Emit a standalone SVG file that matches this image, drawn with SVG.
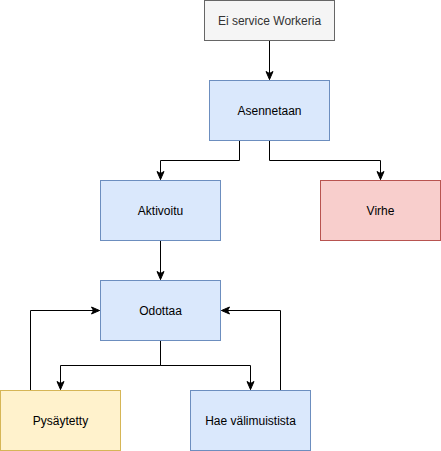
<svg xmlns="http://www.w3.org/2000/svg" width="441" height="451" viewBox="0 0 441 451">
<style>
.n rect{stroke-width:1}
.blue{fill:#dae8fc;stroke:#6c8ebf}
.gray{fill:#f5f5f5;stroke:#666666}
.red{fill:#f8cecc;stroke:#b85450}
.yellow{fill:#fff2cc;stroke:#d6b656}
text{font-family:"Liberation Sans",Arial,sans-serif;font-size:12px;fill:#000;text-anchor:middle;dominant-baseline:central}
.edge{fill:none;stroke:#000;stroke-width:1;marker-end:url(#arr)}
</style>
<defs>
<marker id="arr" markerUnits="userSpaceOnUse" viewBox="-9 -5 10 10" refX="0" refY="0" markerWidth="10" markerHeight="10" orient="auto">
<path d="M-8,-3.5 L0,0 L-8,3.5 L-6,0 Z" fill="#000" stroke="#000" stroke-width="1" stroke-linejoin="miter"/>
</marker>
</defs>
<g transform="translate(0.5,0.5)">
<g id="connectors">
<path class="edge" d="M269 40 L269 79"/>
<path class="edge" d="M239 140 L239 160 L160 160 L160 179"/>
<path class="edge" d="M269 140 L269 160 L380 160 L380 179"/>
<path class="edge" d="M160 240 L160 279"/>
<path class="edge" d="M160 340 L160 365 L60 365 L60 389"/>
<path class="edge" d="M160 340 L160 365 L250 365 L250 389"/>
<path class="edge" d="M30 390 L30 310 L99 310"/>
<path class="edge" d="M280 390 L280 310 L221 310"/>
</g>
<g id="ei-service-workeria" class="n"><rect class="gray" x="204" y="0" width="130" height="40"/><text x="269" y="20" style="fill:#333333">Ei service Workeria</text></g>
<g id="asennetaan" class="n"><rect class="blue" x="209" y="80" width="120" height="60"/><text x="269" y="110">Asennetaan</text></g>
<g id="aktivoitu" class="n"><rect class="blue" x="100" y="180" width="120" height="60"/><text x="160" y="210">Aktivoitu</text></g>
<g id="virhe" class="n"><rect class="red" x="320" y="180" width="120" height="60"/><text x="380" y="210">Virhe</text></g>
<g id="odottaa" class="n"><rect class="blue" x="100" y="280" width="120" height="60"/><text x="160" y="310">Odottaa</text></g>
<g id="pysaytetty" class="n"><rect class="yellow" x="0" y="390" width="120" height="60"/><text x="60" y="420">Pysäytetty</text></g>
<g id="hae-valimuistista" class="n"><rect class="blue" x="190" y="390" width="120" height="60"/><text x="250" y="420">Hae välimuistista</text></g>
</g>
</svg>
